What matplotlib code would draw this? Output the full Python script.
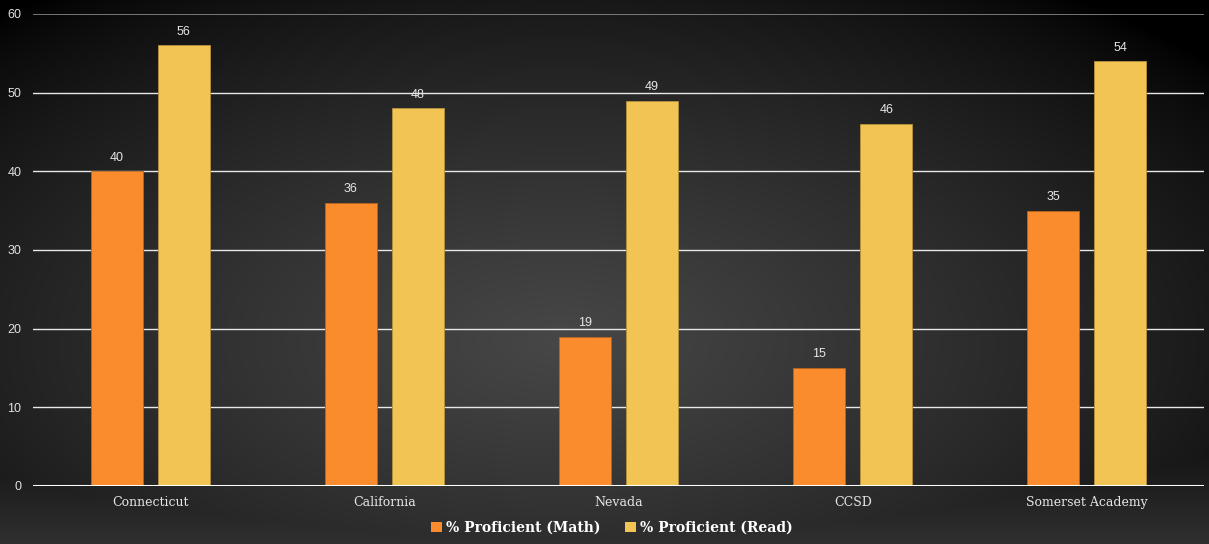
import numpy as np
import matplotlib
matplotlib.use("Agg")
import matplotlib.pyplot as plt

categories = ["Connecticut", "California", "Nevada", "CCSD", "Somerset Academy"]
math_pct = [40, 36, 19, 15, 35]
read_pct = [56, 48, 49, 46, 54]
series_names = ["% Proficient (Math)", "% Proficient (Read)"]
y_ticks = [0, 10, 20, 30, 40, 50, 60]

W, H, DPI = 1209, 544, 100
fig = plt.figure(figsize=(W / DPI, H / DPI), dpi=DPI)

# dark background with a wide soft light area in the middle and a lighter floor
yy, xx = np.mgrid[0:H, 0:W].astype(float)
r = np.sqrt(((xx - 560) / 850) ** 2 + ((yy - 340) / 430) ** 2)
radial = 0x47 * np.clip(1 - r, 0, 1) ** 0.7
floor = 0x30 * np.clip((yy - 380) / 164, 0, 1)
shade = np.maximum(radial, floor) / 255.0
bg = np.dstack([shade, shade, shade])
bg_ax = fig.add_axes([0, 0, 1, 1])
bg_ax.imshow(bg, aspect="auto", extent=[0, 1, 0, 1], interpolation="bilinear")
bg_ax.set_axis_off()

ax = fig.add_axes([33 / W, 1 - 486 / H, (1204 - 33) / W, (486 - 14) / H])
ax.patch.set_alpha(0)

x = np.arange(len(categories))
bw = 0.222
off = 0.143
orange = "#FA8C2D"
yellow = "#F2C453"

for yv in y_ticks[1:]:
    col = "#8a8a8a" if yv == 60 else "#e8e8e8"
    ax.axhline(yv, color=col, lw=1.2 if yv == 60 else 1.0, zorder=1)
ax.axhline(0, color="white", lw=2.2, zorder=3)

b1 = ax.bar(x - off, math_pct, bw, color=orange, edgecolor="#b8661f", lw=0.6, zorder=2, label=series_names[0])
b2 = ax.bar(x + off, read_pct, bw, color=yellow, edgecolor="#b8913c", lw=0.6, zorder=2, label=series_names[1])

for bars, vals in ((b1, math_pct), (b2, read_pct)):
    for b, v in zip(bars, vals):
        ax.annotate(f"{v}", (b.get_x() + b.get_width() / 2, v), xytext=(0, 5.5),
                    textcoords="offset points", ha="center", va="bottom",
                    color="#e6e6e6", fontsize=9, family="Liberation Sans")

ax.set_xlim(-0.5, len(categories) - 0.5)
ax.set_ylim(0, 60)
ax.set_yticks(y_ticks)
ax.set_yticklabels([str(v) for v in y_ticks], color="#e0e0e0", fontsize=9, family="Liberation Sans")
ax.set_xticks(x)
ax.set_xticklabels(categories, color="#e6e6e6", fontsize=9, family="DejaVu Serif")
ax.tick_params(axis="both", length=0)
ax.tick_params(axis="y", pad=8.5)
ax.tick_params(axis="x", pad=7)
for s in ax.spines.values():
    s.set_visible(False)

leg = fig.legend(handles=[b1, b2], labels=series_names, loc="center",
                 bbox_to_anchor=(612 / W, 1 - 528 / H), ncol=2, frameon=False,
                 handlelength=0.8, handleheight=0.8, handletextpad=0.25, columnspacing=1.8,
                 prop={"family": "DejaVu Serif", "weight": "bold", "size": 10})
for t in leg.get_texts():
    t.set_color("white")
for h in leg.legend_handles:
    h.set_linewidth(0)

fig.savefig("out.png", dpi=DPI)
